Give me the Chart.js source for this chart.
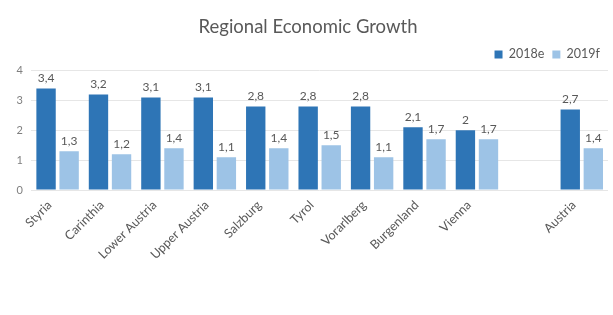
<!DOCTYPE html>
<html>
<head>
<meta charset="utf-8">
<script src="https://cdn.jsdelivr.net/npm/chart.js@4"></script>
<style>
  html, body { margin: 0; padding: 0; background: #fff; }
  #wrap { width: 613px; height: 315px; }
</style>
</head>
<body>
<div id="wrap"><canvas id="growthChart" width="613" height="315"></canvas></div>
<script>
// regions (empty slot between Vienna and Austria)
const regions = ['Styria', 'Carinthia', 'Lower Austria', 'Upper Austria', 'Salzburg', 'Tyrol', 'Vorarlberg', 'Burgenland', 'Vienna', '', 'Austria'];
const growth2018e = [3.4, 3.2, 3.1, 3.1, 2.8, 2.8, 2.8, 2.1, 2, null, 2.7];
const growth2019f = [1.3, 1.2, 1.4, 1.1, 1.4, 1.5, 1.1, 1.7, 1.7, null, 1.4];
const yTicks = [0, 1, 2, 3, 4];

const textGray = '#595959';

// value labels above bars, decimal comma
const barLabels = {
  id: 'barLabels',
  afterDatasetsDraw(chart) {
    const ctx = chart.ctx;
    ctx.save();
    ctx.font = '12px Lato, sans-serif';
    ctx.fillStyle = textGray;
    ctx.textAlign = 'center';
    ctx.textBaseline = 'bottom';
    chart.data.datasets.forEach((ds, i) => {
      chart.getDatasetMeta(i).data.forEach((bar, j) => {
        const v = ds.data[j];
        if (v === null) return;
        ctx.fillText(String(v).replace('.', ','), bar.x, bar.y - 4);
      });
    });
    ctx.restore();
  }
};

// rotated category labels; drawn here so they can hang left of the plot like the original
const slantLabels = {
  id: 'slantLabels',
  afterDraw(chart) {
    const ctx = chart.ctx;
    const x = chart.scales.x;
    ctx.save();
    ctx.font = '12.5px Lato, sans-serif';
    ctx.fillStyle = textGray;
    ctx.textAlign = 'right';
    ctx.textBaseline = 'middle';
    chart.data.labels.forEach((lbl, i) => {
      if (!lbl) return;
      ctx.save();
      ctx.translate(x.getPixelForValue(i) - 8, x.top + 13);
      ctx.rotate(-Math.PI / 4);
      ctx.fillText(lbl, 0, 0);
      ctx.restore();
    });
    ctx.restore();
  }
};

const ctx = document.getElementById('growthChart').getContext('2d');
const chart = new Chart(ctx, {
  type: 'bar',
  data: {
    labels: regions,
    datasets: [{
      label: '2018e',
      data: growth2018e,
      backgroundColor: '#2E75B6'
    },
    {
      label: '2019f',
      data: growth2019f,
      backgroundColor: '#9DC3E6'
    }]
  },
  options: {
    responsive: false,
    animation: false,
    layout: {
      padding: { left: 8, right: 5, bottom: 117 }
    },
    datasets: {
      bar: { categoryPercentage: 0.88, barPercentage: 0.84 }
    },
    scales: {
      x: {
        grid: { display: false },
        border: { display: false },
        ticks: { display: false }
      },
      y: {
        min: 0,
        max: 4,
        afterBuildTicks(axis) {
          axis.ticks = yTicks.map(v => ({ value: v }));
        },
        border: { display: false },
        grid: { color: '#e6e6e6', drawTicks: false },
        ticks: {
          color: '#7f7f7f',
          font: { family: 'Lato', size: 11 },
          padding: 8.5
        }
      }
    },
    plugins: {
      title: {
        display: true,
        text: 'Regional Economic Growth',
        color: textGray,
        font: { family: 'Lato', size: 18.5, weight: 'normal' },
        padding: { top: 16, bottom: 2 }
      },
      legend: {
        position: 'top',
        align: 'end',
        labels: {
          color: textGray,
          font: { family: 'Lato', size: 12.5 },
          boxWidth: 8,
          boxHeight: 8,
          padding: 8
        }
      },
      tooltip: { enabled: false }
    }
  },
  plugins: [barLabels, slantLabels]
});
</script>
</body>
</html>
